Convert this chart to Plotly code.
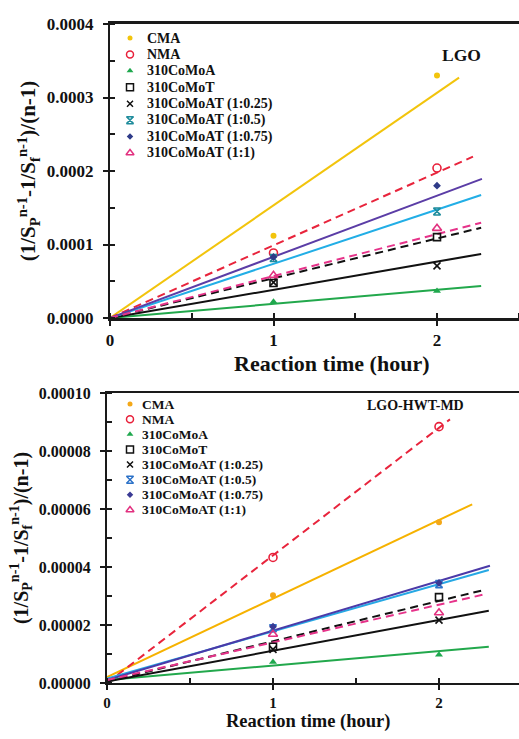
import plotly.graph_objects as go

W, H = 519, 739
FONT = "Liberation Serif, Times New Roman, serif"

# ---------------- data ----------------
series_names = ["CMA", "NMA", "310CoMoA", "310CoMoT", "310CoMoAT (1:0.25)",
                "310CoMoAT (1:0.5)", "310CoMoAT (1:0.75)", "310CoMoAT (1:1)"]
time_h = [1, 2]
x_ticks = [0, 1, 2]

# LGO panel: measured values at 1 h and 2 h
lgo_cma = [0.000112, 0.000330]
lgo_nma = [0.0000885, 0.000204]
lgo_comoa = [0.0000222, 0.0000367]
lgo_comot = [0.0000476, 0.000110]
lgo_at025 = [0.0000485, 0.0000710]
lgo_at05 = [0.0000816, 0.000145]
lgo_at075 = [0.0000830, 0.000180]
lgo_at1 = [0.0000580, 0.000122]
# LGO trend lines (slope, intercept, forward end in hours)
lgo_slope = [0.0001532, 0.0000989, 0.0000192, 0.0000541, 0.0000384, 0.0000737, 0.0000832, 0.0000571]
lgo_icpt = [0, 0, 0, 0, 0, 0, 0, 0]
lgo_end = [2.135, 2.22, 2.27, 2.27, 2.27, 2.27, 2.275, 2.27]
lgo_yticks = [0.0, 0.0001, 0.0002, 0.0003, 0.0004]

# LGO-HWT-MD panel
md_cma = [0.0000303, 0.0000554]
md_nma = [0.0000433, 0.0000884]
md_comoa = [0.0000072, 0.0000097]
md_comot = [0.0000125, 0.0000296]
md_at025 = [0.0000116, 0.0000217]
md_at05 = [0.0000189, 0.0000341]
md_at075 = [0.0000194, 0.0000345]
md_at1 = [0.0000168, 0.0000242]
md_slope = [0.0000271, 0.0000440, 0.0000050, 0.0000139, 0.0000106, 0.0000163, 0.0000171, 0.0000130]
md_icpt = [0.0000020, 0.0, 0.0000010, 0.0000005, 0.0000005, 0.0000015, 0.0000010, 0.0000010]
md_end = [2.20, 2.066, 2.30, 2.28, 2.30, 2.30, 2.307, 2.28]
md_yticks = [0.0, 0.00002, 0.00004, 0.00006, 0.00008, 0.00010]

lgo_points = [lgo_cma, lgo_nma, lgo_comoa, lgo_comot, lgo_at025, lgo_at05, lgo_at075, lgo_at1]
md_points = [md_cma, md_nma, md_comoa, md_comot, md_at025, md_at05, md_at075, md_at1]

# ---------------- styles ----------------
symbols = ["circle", "circle-open", "triangle-up", "square-open", "x-thin-open",
           "hourglass-open", "diamond", "triangle-up-open"]
msizes = [6, 8, 7, 7, 7, 7, 6, 8]
lg_msizes = [5, 7, 6, 7, 6, 7, 5, 7]
dashes = ["solid", "8px,5px", "solid", "8px,5px", "solid", "solid", "solid", "8px,5px"]

top_mcol = ["#F2C40C", "#E8203A", "#1FA84E", "#111111", "#111111", "#1F8C9C", "#2E3A88", "#E2307F"]
top_lcol = ["#F2C40C", "#E8243C", "#22A84C", "#111111", "#111111", "#22AEE6", "#5B3DA6", "#E6338A"]
bot_mcol = ["#F4A818", "#E8203A", "#1FA84E", "#111111", "#111111", "#2C72C8", "#3A3A94", "#E2307F"]
bot_lcol = ["#F6B200", "#E8243C", "#22A84C", "#111111", "#111111", "#26A8E4", "#4B3AA8", "#E6338A"]


def px_x(p):
    return p / W


def px_y(p):
    return 1 - p / H


fig = go.Figure()

panels = [
    dict(xa="x", ya="y", pts=lgo_points, slope=lgo_slope, icpt=lgo_icpt, end=lgo_end,
         mcol=top_mcol, lcol=top_lcol),
    dict(xa="x2", ya="y2", pts=md_points, slope=md_slope, icpt=md_icpt, end=md_end,
         mcol=bot_mcol, lcol=bot_lcol),
]

for p in panels:
    # trend lines
    for i, name in enumerate(series_names):
        xs = [0, p["end"][i]]
        ys = [p["icpt"][i] + p["slope"][i] * v for v in xs]
        fig.add_trace(go.Scatter(x=xs, y=ys, mode="lines", xaxis=p["xa"], yaxis=p["ya"],
                                 line=dict(color=p["lcol"][i], width=2, dash=dashes[i]),
                                 showlegend=False, hoverinfo="skip"))
    # measured points
    for i, name in enumerate(series_names):
        openm = symbols[i].endswith("open")
        fig.add_trace(go.Scatter(x=time_h, y=p["pts"][i], mode="markers", name=name,
                                 xaxis=p["xa"], yaxis=p["ya"],
                                 marker=dict(symbol=symbols[i], size=msizes[i], color=p["mcol"][i],
                                             line=dict(width=1.6 if openm else 0, color=p["mcol"][i])),
                                 showlegend=False))

# legend markers on dedicated hidden axes (one row per series)
legend_specs = [
    dict(xa="x5", ya="y5", mcol=top_mcol),
    dict(xa="x6", ya="y6", mcol=bot_mcol),
]
for ls in legend_specs:
    for i, name in enumerate(series_names):
        openm = symbols[i].endswith("open")
        fig.add_trace(go.Scatter(x=[0], y=[i], mode="markers", xaxis=ls["xa"], yaxis=ls["ya"],
                                 marker=dict(symbol=symbols[i], size=lg_msizes[i], color=ls["mcol"][i],
                                             line=dict(width=1.5 if openm else 0, color=ls["mcol"][i])),
                                 showlegend=False, hoverinfo="skip"))

AX = "#1a1a1a"
tickfont_top = dict(family=FONT, size=17, color="#111", weight="bold")
tickfont_bot = dict(family=FONT, size=16, color="#111", weight="bold")
tickfont_botx = dict(family=FONT, size=15, color="#111", weight="bold")
ytitle = "(1/S<sub>P</sub><sup>n-1</sup>-1/S<sub>f</sub><sup>n-1</sup>)/(n-1)"

# geometry
t_left, t_top, t_bot = 110, 24, 318
t_xmax = (W - t_left) / 163.5
b_left, b_top, b_bot = 107, 393, 683
b_xmax = (W - b_left) / 166.0


def xaxis_main(left, xmax, yanchor, tf, standoff, lw):
    return dict(domain=[px_x(left), 1], anchor=yanchor, range=[0, xmax],
                tickvals=x_ticks, ticks="outside", ticklen=5, tickwidth=2, tickcolor=AX,
                showline=True, linewidth=lw, linecolor=AX, mirror=True,
                showgrid=False, zeroline=False, tickfont=tf, ticklabelstandoff=standoff,
                minor=dict(dtick=0.5, ticks="inside", ticklen=5, tickwidth=1.5, tickcolor=AX),
                automargin=False, fixedrange=True)


def yaxis_main(top, bot, xanchor, ymax, ticks, fmt, minor_dt, tf, standoff, tsize, tstand):
    return dict(domain=[px_y(bot), px_y(top)], anchor=xanchor, range=[0, ymax],
                tickvals=ticks, tickformat=fmt, ticks="outside", ticklen=5, tickwidth=2,
                tickcolor=AX, showline=True, linewidth=2, linecolor=AX, mirror=False,
                showgrid=False, zeroline=False, tickfont=tf, ticklabelstandoff=standoff,
                minor=dict(dtick=minor_dt, ticks="inside", ticklen=5, tickwidth=1.5, tickcolor=AX),
                title=dict(text=ytitle, standoff=tstand,
                           font=dict(family=FONT, size=tsize, color="#111", weight="bold")),
                automargin=False, fixedrange=True)


def overlay_x(base, yanchor, xmax):
    return dict(overlaying=base, anchor=yanchor, range=[0, xmax], tickvals=x_ticks,
                ticks="inside", ticklen=5, tickwidth=2, tickcolor=AX, showticklabels=False,
                showline=False, showgrid=False, zeroline=False, automargin=False)


def overlay_y(base, xanchor, ymax, ticks):
    return dict(overlaying=base, anchor=xanchor, range=[0, ymax], tickvals=ticks,
                ticks="inside", ticklen=5, tickwidth=2, tickcolor=AX, showticklabels=False,
                showline=False, showgrid=False, zeroline=False, automargin=False)


n = len(series_names)
top_row0, top_step = 38, 16.43
bot_row0, bot_step = 404, 15.14


def legend_y_axis(row0, step):
    return dict(domain=[px_y(row0 + (n - 0.5) * step), px_y(row0 - 0.5 * step)],
                range=[n - 0.5, -0.5], visible=False, fixedrange=True)


fig.update_layout(
    width=W, height=H,
    margin=dict(l=0, r=0, t=0, b=0),
    paper_bgcolor="white", plot_bgcolor="white",
    showlegend=False,
    xaxis=xaxis_main(t_left, t_xmax, "y", tickfont_top, 0, 2.5),
    yaxis=yaxis_main(t_top, t_bot, "x", 0.0004, lgo_yticks, ".4f", 0.00005, tickfont_top, 6, 21, 5),
    xaxis2=xaxis_main(b_left, b_xmax, "y2", tickfont_botx, 0, 2),
    yaxis2=yaxis_main(b_top, b_bot, "x2", 0.0001, md_yticks, ".5f", 0.00001, tickfont_bot, 6, 20, 5),
    xaxis3=overlay_x("x", "y", t_xmax),
    yaxis3=overlay_y("y", "x", 0.0004, lgo_yticks),
    xaxis4=overlay_x("x2", "y2", b_xmax),
    yaxis4=overlay_y("y2", "x2", 0.0001, md_yticks),
    xaxis5=dict(domain=[px_x(120), px_x(140)], range=[-1, 1], visible=False, anchor="y5", fixedrange=True),
    yaxis5=dict(legend_y_axis(top_row0, top_step), anchor="x5"),
    xaxis6=dict(domain=[px_x(120), px_x(140)], range=[-1, 1], visible=False, anchor="y6", fixedrange=True),
    yaxis6=dict(legend_y_axis(bot_row0, bot_step), anchor="x6"),
)

ann = []
for i, name in enumerate(series_names):
    ann.append(dict(x=px_x(145), xref="paper", y=i, yref="y5", text=name, showarrow=False,
                    xanchor="left", yanchor="middle",
                    font=dict(family=FONT, size=14, color="#111", weight="bold")))
    ann.append(dict(x=px_x(140), xref="paper", y=i, yref="y6", text=name, showarrow=False,
                    xanchor="left", yanchor="middle",
                    font=dict(family=FONT, size=13.5, color="#111", weight="bold")))

ann += [
    dict(x=px_x(483), y=px_y(43), xref="paper", yref="paper", text="LGO", showarrow=False,
         font=dict(family=FONT, size=17.5, color="#111", weight="bold")),
    dict(x=px_x(466), y=px_y(405), xref="paper", yref="paper", text="LGO-HWT-MD", showarrow=False,
         font=dict(family=FONT, size=14, color="#111", weight="bold")),
    dict(x=px_x(332), y=px_y(364), xref="paper", yref="paper", text="Reaction time (hour)",
         showarrow=False, font=dict(family=FONT, size=22, color="#111", weight="bold")),
    dict(x=px_x(308), y=px_y(734), xref="paper", yref="paper", text="Reaction time (hour)",
         showarrow=False, font=dict(family=FONT, size=18.5, color="#111", weight="bold")),
]
fig.update_layout(annotations=ann)

fig.write_html("out.html")
